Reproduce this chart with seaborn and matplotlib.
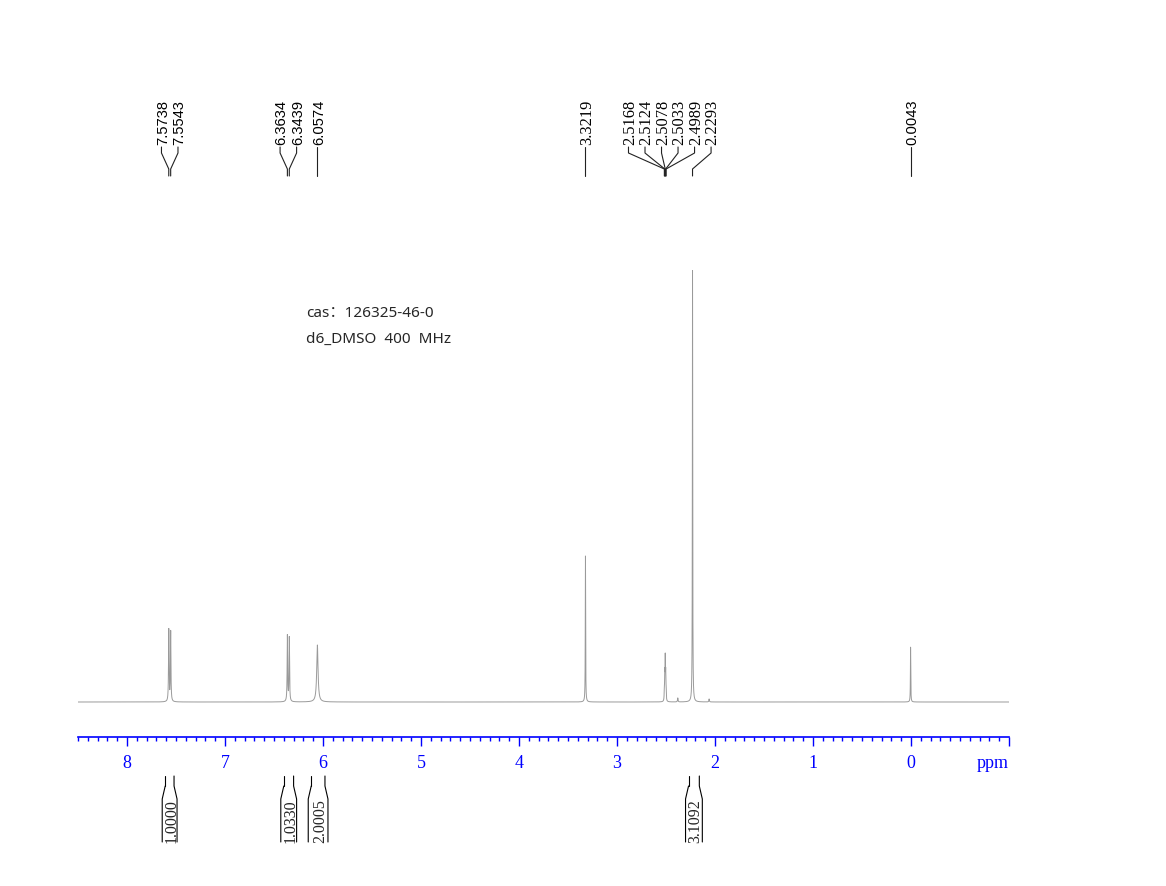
import matplotlib
matplotlib.use("Agg")
import matplotlib.pyplot as plt
from matplotlib.ticker import MultipleLocator
import numpy as np
import pandas as pd
import seaborn as sns

# peak list (ppm, height in px above baseline, half width)
peak_ppm = [7.5738, 7.5543, 6.3634, 6.3439, 6.0574, 3.3219,
            2.5168, 2.5124, 2.5078, 2.5033, 2.4989, 2.2293, 0.0043, 2.38, 2.06]
peak_height = [72, 70, 66, 64, 57, 146, 10, 25, 40, 25, 10, 432, 55, 4, 3]
peak_width = [0.003, 0.003, 0.003, 0.003, 0.008, 0.002,
              0.002, 0.002, 0.002, 0.002, 0.002, 0.002, 0.002, 0.003, 0.003]

# labelled peaks (the last two tiny ones carry no label)
label_ppm = peak_ppm[:13]
sans_labels = ["7.5738", "7.5543", "6.3634", "6.3439", "6.0574", "0.0043"]

# integrals: (from, to, value)
int_from = [7.61, 6.40, 6.12, 2.27]
int_to = [7.52, 6.30, 5.98, 2.16]
int_value = ["1.0000", "1.0330", "2.0005", "3.1092"]

x_ticks = [8, 7, 6, 5, 4, 3, 2, 1, 0]

PX = 97.9  # pixels per ppm


def spread_labels(pos, gap):
    """Spread label x positions so they keep at least `gap` apart."""
    order = np.argsort(-np.asarray(pos))
    ideal = [-pos[i] for i in order]
    clusters = [[v] for v in ideal]
    merged = True
    while merged:
        merged = False
        placed = []
        for c in clusters:
            start = np.mean(c) - (len(c) - 1) / 2 * gap
            placed.append((start, start + (len(c) - 1) * gap))
        for k in range(len(clusters) - 1):
            if placed[k + 1][0] - placed[k][1] < gap - 1e-9:
                clusters[k] = clusters[k] + clusters.pop(k + 1)
                merged = True
                break
    out = []
    for c in clusters:
        start = np.mean(c) - (len(c) - 1) / 2 * gap
        out += [start + j * gap for j in range(len(c))]
    res = [0.0] * len(pos)
    for j, i in enumerate(order):
        res[i] = -out[j]
    return res


x = np.linspace(8.5, -1.0, 40000)
y = np.zeros_like(x)
for p, h, w in zip(peak_ppm, peak_height, peak_width):
    y += h / (1 + ((x - p) / w) ** 2)
df = pd.DataFrame({"ppm": x, "intensity": y})

sns.set_style("white")
fig = plt.figure(figsize=(11.66, 8.87), dpi=100)
ax = fig.add_axes([78 / 1166, 1 - 738 / 887, 931 / 1166, 678 / 887])

sns.lineplot(data=df, x="ppm", y="intensity", ax=ax, sort=False,
             estimator=None, color="#9a9a9a", linewidth=0.7)

ax.set_xlim(8.5, -1.0)
ax.set_ylim(-35, 643)
ax.set(xlabel="", ylabel="")
ax.set_yticks([])
for s in ["left", "top", "right"]:
    ax.spines[s].set_visible(False)
ax.spines["bottom"].set_color("#0000ff")
ax.spines["bottom"].set_linewidth(1.2)

ax.set_xticks(x_ticks + [-1])
ax.set_xticklabels([str(t) for t in x_ticks] + [""],
                   fontfamily="Liberation Serif", fontsize=13, color="#0000ff")
ax.xaxis.set_minor_locator(MultipleLocator(0.1))
ax.tick_params(axis="x", which="major", direction="out", length=6.5, width=1,
               color="#0000ff", pad=6, bottom=True)
ax.tick_params(axis="x", which="minor", direction="out", length=3, width=1,
               color="#0000ff", bottom=True)
ax.text(-1.0, -61, "ppm", ha="right", va="center", fontfamily="Liberation Serif",
        fontsize=13, color="#0000ff", clip_on=False)

# peak labels with connector tree
label_x = spread_labels(label_ppm, 16.5 / PX)
for p, lx in zip(label_ppm, label_x):
    txt = f"{p:.4f}"
    fam = "Liberation Sans" if txt in sans_labels else "Liberation Serif"
    size = 10.6 if txt in sans_labels else 11.8
    ax.text(lx - 1.5 / PX, 558, txt, rotation=90, ha="center", va="bottom",
            fontfamily=fam, fontsize=size, color="black", clip_on=False)
    ax.plot([lx, lx, p, p], [555, 549, 533, 526], color="#222222",
            linewidth=0.8, clip_on=False)

# integrals below the axis
for a, b, v in zip(int_from, int_to, int_value):
    f = 3 / PX
    ax.plot([a + f, a + f, a], [-140, -97, -84], color="black", lw=0.8,
            clip_on=False)
    ax.plot([a, a], [-84, -74], color="black", lw=0.8, clip_on=False)
    ax.plot([b - f, b - f, b, b], [-140, -97, -84, -74], color="black", lw=0.8,
            clip_on=False)
    ax.text((a + b) / 2 - 1.8 / PX, -118, v, rotation=90, ha="center",
            va="center", fontfamily="Liberation Serif", fontsize=11.5,
            clip_on=False)

fig.text(306 / 1166, 1 - 317 / 887, "cas：126325-46-0",
         family=["Noto Sans", "Noto Sans CJK SC"], fontsize=11)
fig.text(306 / 1166, 1 - 343 / 887, "d6_DMSO  400  MHz",
         family=["Noto Sans", "Noto Sans CJK SC"], fontsize=11)

fig.savefig("out.png", dpi=100)
